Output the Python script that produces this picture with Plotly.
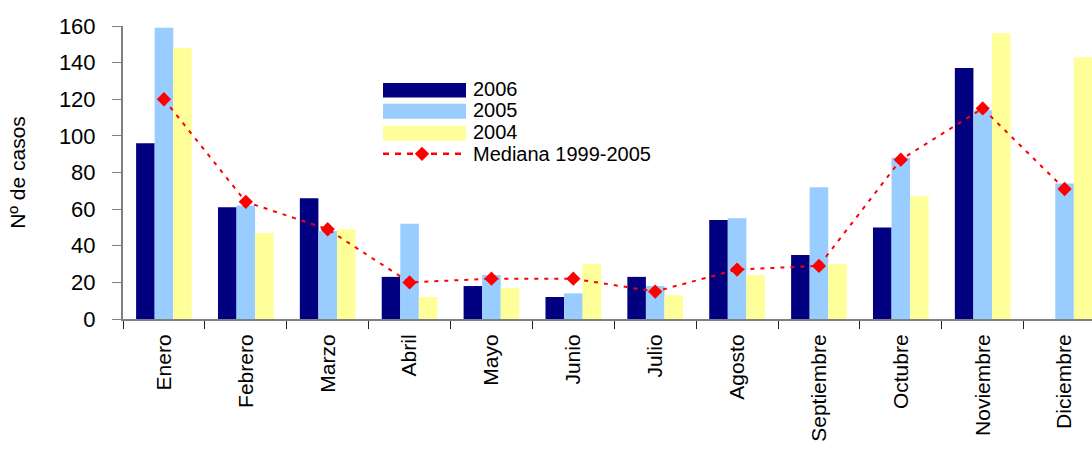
import plotly.graph_objects as go

MONTHS = ["Enero", "Febrero", "Marzo", "Abril", "Mayo", "Junio", "Julio",
          "Agosto", "Septiembre", "Octubre", "Noviembre", "Diciembre"]
Y2006 = [96, 61, 66, 23, 18, 12, 23, 54, 35, 50, 137, None]
Y2005 = [159, 62, 48, 52, 24, 14, 18, 55, 72, 88, 114, 74]
Y2004 = [148, 47, 49, 12, 17, 30, 13, 24, 30, 67, 156, 143]
MEDIANA = [120, 64, 49, 20, 22, 22, 15, 27, 29, 87, 115, 71]
Y_TICKS = [0, 20, 40, 60, 80, 100, 120, 140, 160]

NAVY = "#000080"
SKY = "#99CCFF"
PALE = "#FFFF99"
RED = "#FF0000"
FONT = "Arial, Liberation Sans, sans-serif"

# page margin is removed in post_script, so figure pixels == screen pixels
W, H = 1092, 449
L, T = 123, 26
B = H - 319.5                          # x axis sits at y=319.5
PW, PH = W - L, H - T - B


def px(x):  # pixel -> paper x
    return (x - L) / PW


def py(y):  # pixel -> paper y
    return (H - B - y) / PH


fig = go.Figure()
series = [("2006", Y2006, NAVY), ("2005", Y2005, SKY), ("2004", Y2004, PALE)]
for name, vals, col in series:
    fig.add_trace(go.Bar(x=MONTHS, y=vals, name=name, marker_color=col,
                         marker_line_width=0))
fig.add_trace(go.Scatter(x=MONTHS, y=MEDIANA, name="Mediana 1999-2005",
                         mode="lines+markers",
                         line=dict(color=RED, width=2, dash="4px,6px"),
                         marker=dict(symbol="diamond", size=11, color=RED)))

# legend drawn by hand so the swatches can be wide like the original
rows = [(83, 97.5), (104, 119), (126, 141)]
for (name, _, col), (y0, y1) in zip(series, rows):
    fig.add_shape(type="rect", xref="paper", yref="paper",
                  x0=px(383), x1=px(466), y0=py(y1), y1=py(y0),
                  fillcolor=col, line_width=0)
    fig.add_annotation(text=name, xref="paper", yref="paper",
                       x=px(471), y=py((y0 + y1) / 2 - 1), xanchor="left",
                       yanchor="middle", showarrow=False,
                       font=dict(size=20, color="black", family=FONT))
fig.add_shape(type="line", xref="paper", yref="paper",
              x0=px(383), x1=px(466), y0=py(154), y1=py(154),
              line=dict(color=RED, width=2.5, dash="6px,6px"))
fig.add_trace(go.Scatter(x=[px(422)], y=[py(154)], xaxis="x2", yaxis="y2",
                         mode="markers", showlegend=False, hoverinfo="skip",
                         marker=dict(symbol="diamond", size=11, color=RED)))
fig.add_annotation(text="Mediana 1999-2005", xref="paper", yref="paper",
                   x=px(471), y=py(154), xanchor="left", yanchor="middle",
                   showarrow=False, font=dict(size=20, color="black", family=FONT))

fig.update_layout(
    width=W, height=H,
    margin=dict(l=L, r=0, t=T, b=B, autoexpand=False),
    paper_bgcolor="white", plot_bgcolor="white",
    showlegend=False,
    barmode="group", bargap=0.32, bargroupgap=0,
    font=dict(family=FONT, color="black"),
    xaxis=dict(range=[-0.5, 11.335], tickangle=-90, tickson="boundaries",
               ticks="outside", ticklen=8, tickcolor="#222",
               showline=True, linecolor="#808080", linewidth=2,
               showgrid=False, tickfont=dict(size=21), ticklabelstandoff=5),
    yaxis=dict(range=[0, 160], tickvals=Y_TICKS, ticks="outside", ticklen=9,
               tickcolor="#808080", showline=True, linecolor="#808080",
               linewidth=2, showgrid=False, zeroline=False,
               tickfont=dict(size=22), ticklabelstandoff=12,
               title=dict(text="Nº de casos", font=dict(size=21), standoff=28)),
    xaxis2=dict(range=[0, 1], domain=[0, 1], visible=False, overlaying="x"),
    yaxis2=dict(range=[0, 1], domain=[0, 1], visible=False, overlaying="y"),
)

fig.write_html("out.html", config={"displayModeBar": False},
               post_script="document.body.style.margin='0';"
                           "document.body.style.overflow='hidden';")
